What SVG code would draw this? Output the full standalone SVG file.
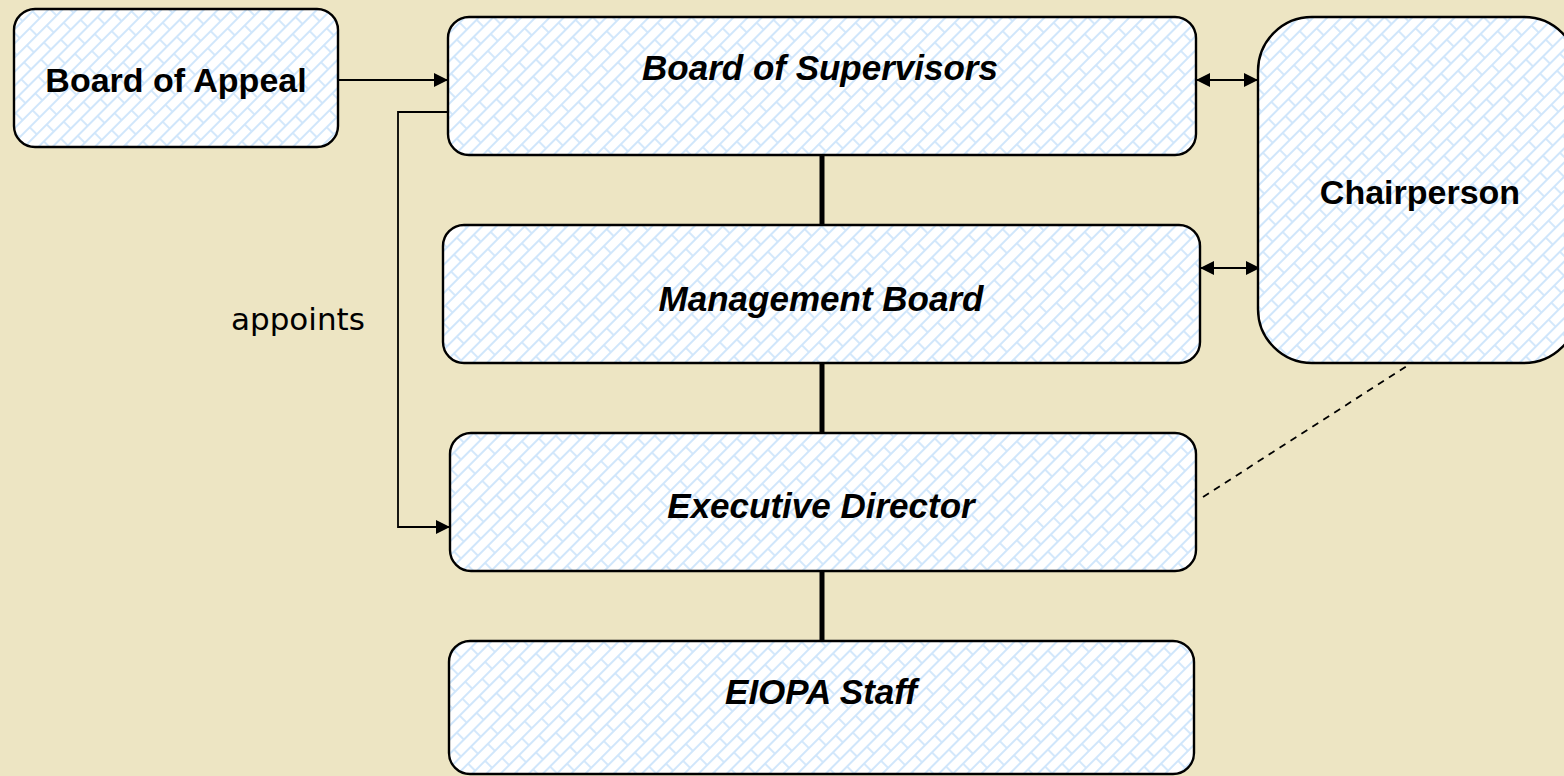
<svg xmlns="http://www.w3.org/2000/svg" width="1564" height="776" viewBox="0 0 1564 776">
  <defs>
    <!-- light blue diagonal brick texture used inside every box -->
    <pattern id="brick" width="28" height="20" patternUnits="userSpaceOnUse" patternTransform="rotate(-45)">
      <rect width="28" height="20" fill="#ffffff"/>
      <path d="M0 1H28M0 11H28M1 1V11M15 11V20" stroke="#d0e6fb" stroke-width="1.8" fill="none"/>
    </pattern>
    <marker id="arrow" viewBox="0 0 14 14" refX="14" refY="7" markerWidth="14" markerHeight="14" markerUnits="userSpaceOnUse" orient="auto-start-reverse">
      <path d="M0 0L14 7L0 14Z" fill="#000"/>
    </marker>
    <style>
      .box { fill: url(#brick); stroke: #000; stroke-width: 2.4; }
      .lbl { font-family: "Liberation Sans", Arial, sans-serif; font-size: 34px; font-weight: bold; text-anchor: middle; fill: #000; }
      .it { font-style: italic; font-size: 35px; }
      .thin { stroke: #000; stroke-width: 1.8; fill: none; }
      .thick { stroke: #000; stroke-width: 5; fill: none; }
      .dash { stroke: #000; stroke-width: 1.8; fill: none; stroke-dasharray: 7 6; }
      .note { font-family: "DejaVu Sans", Verdana, sans-serif; font-size: 31px; fill: #000; }
    </style>
  </defs>

  <rect width="1564" height="776" fill="#ede5c3"/>

  <g id="connectors">
    <line class="thick" x1="822" y1="155" x2="822" y2="225"/>
    <line class="thick" x1="822" y1="363" x2="822" y2="433"/>
    <line class="thick" x1="822" y1="571" x2="822" y2="641"/>
    <line class="thin" x1="338" y1="80" x2="448" y2="80" marker-end="url(#arrow)"/>
    <polyline class="thin" points="448,112 398,112 398,527 450,527" marker-end="url(#arrow)"/>
    <line class="thin" x1="1196" y1="80" x2="1258" y2="80" marker-start="url(#arrow)" marker-end="url(#arrow)"/>
    <line class="thin" x1="1200" y1="268" x2="1260" y2="268" marker-start="url(#arrow)" marker-end="url(#arrow)"/>
    <line class="dash" x1="1203" y1="497" x2="1410" y2="364"/>
    <text class="note" x="231" y="330">appoints</text>
  </g>

  <g id="board-of-appeal">
    <rect class="box" x="14" y="9" width="324" height="138" rx="21"/>
    <text class="lbl" x="176" y="92">Board of Appeal</text>
  </g>

  <g id="board-of-supervisors">
    <rect class="box" x="448" y="17" width="748" height="138" rx="21"/>
    <text class="lbl it" x="820" y="80">Board of Supervisors</text>
  </g>

  <g id="chairperson">
    <rect class="box" x="1258" y="17" width="320" height="346" rx="54"/>
    <text class="lbl" x="1420" y="204">Chairperson</text>
  </g>

  <g id="management-board">
    <rect class="box" x="443" y="225" width="757" height="138" rx="21"/>
    <text class="lbl it" x="821" y="311">Management Board</text>
  </g>

  <g id="executive-director">
    <rect class="box" x="450" y="433" width="746" height="138" rx="21"/>
    <text class="lbl it" x="821" y="518">Executive Director</text>
  </g>

  <g id="eiopa-staff">
    <rect class="box" x="449" y="641" width="745" height="133" rx="21"/>
    <text class="lbl it" x="821" y="704">EIOPA Staff</text>
  </g>
</svg>
